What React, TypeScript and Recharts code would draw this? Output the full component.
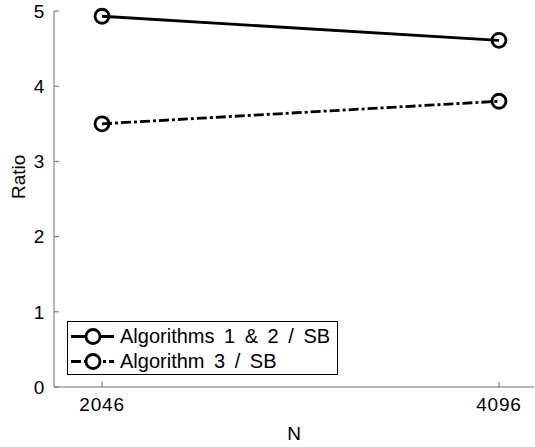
import { FC } from "react";
import {
  LineChart,
  Line,
  XAxis,
  YAxis,
} from "recharts";

const nValues = [2046, 4096];
const algo12 = [4.93, 4.61];
const algo3 = [3.5, 3.8];
const yTicks = [0, 1, 2, 3, 4, 5];

const seriesNames = ["Algorithms 1 & 2 / SB", "Algorithm 3 / SB"];

const data = nValues.map((n, i) => ({ n, a12: algo12[i], a3: algo3[i] }));

const FONT = "'Liberation Sans', Arial, sans-serif";
const AXIS = "#6e6e6e";
const DASH = "10 3 3 3";
const SW = 2.8;

const tickStyle = { fill: "#000", fontSize: 19, fontFamily: FONT, letterSpacing: 0.8 };

const Marker: FC<any> = ({ cx, cy }) => {
  if (cx == null || cy == null) return null;
  return <circle cx={cx} cy={cy} r={7} fill="none" stroke="#000" strokeWidth={SW} />;
};

// legend drawn as an overlay so it doesn't shrink the plot area
const LegendBox: FC = () => (
  <div
    style={{
      position: "absolute",
      left: 67,
      top: 321,
      border: "1px solid #000",
      background: "#fff",
      width: 271,
      height: 54,
      boxSizing: "border-box",
      fontFamily: FONT,
      fontSize: 20,
      color: "#000",
    }}
  >
    {seriesNames.map((name, i) => (
      <div key={name} style={{ display: "flex", alignItems: "center", height: 25, marginTop: i === 0 ? 2 : 0 }}>
        <svg width={50} height={25} style={{ flexShrink: 0 }}>
          <line
            x1={3}
            y1={12.5}
            x2={46}
            y2={12.5}
            stroke="#000"
            strokeWidth={SW}
            strokeDasharray={i === 1 ? DASH : undefined}
          />
          <circle cx={25} cy={12.5} r={7} fill="#fff" stroke="#000" strokeWidth={SW} />
        </svg>
        <span style={{ marginLeft: 2, whiteSpace: "nowrap", wordSpacing: 4, lineHeight: "25px" }}>{name}</span>
      </div>
    ))}
  </div>
);

const App: FC = () => {
  return (
    <div style={{ position: "absolute", left: 0, top: 0, width: 535, height: 447, background: "#fff" }}>
      <LineChart
        width={535}
        height={447}
        data={data}
        margin={{ top: 11, right: 1, bottom: 0, left: 0 }}
      >
        <XAxis
          dataKey="n"
          type="number"
          domain={[1798, 4277]}
          ticks={nValues}
          allowDataOverflow
          stroke={AXIS}
          tickSize={-5}
          tickMargin={16}
          height={60}
          tick={tickStyle}
          label={{ value: "N", position: "insideBottom", offset: 7, fill: "#000", fontSize: 19, fontFamily: FONT }}
        />
        <XAxis
          xAxisId="top"
          dataKey="n"
          type="number"
          orientation="top"
          domain={[1798, 4277]}
          ticks={nValues}
          allowDataOverflow
          stroke={AXIS}
          tickSize={-5}
          tick={false}
          height={0}
        />
        <YAxis
          domain={[0, 5]}
          ticks={yTicks}
          stroke={AXIS}
          tickSize={-5}
          tickMargin={14}
          width={54}
          tick={tickStyle}
          label={{ value: "Ratio", angle: -90, position: "insideLeft", offset: 18, fill: "#000", fontSize: 19, fontFamily: FONT }}
        />
        <YAxis
          yAxisId="right"
          orientation="right"
          domain={[0, 5]}
          ticks={yTicks}
          stroke={AXIS}
          tickSize={-5}
          tick={false}
          width={0}
        />
        <Line
          dataKey="a12"
          stroke="#000"
          strokeWidth={SW}
          dot={<Marker />}
          activeDot={false}
          isAnimationActive={false}
        />
        <Line
          dataKey="a3"
          stroke="#000"
          strokeWidth={SW}
          strokeDasharray={DASH}
          dot={<Marker />}
          activeDot={false}
          isAnimationActive={false}
        />
      </LineChart>
      <LegendBox />
    </div>
  );
};

export default App;
